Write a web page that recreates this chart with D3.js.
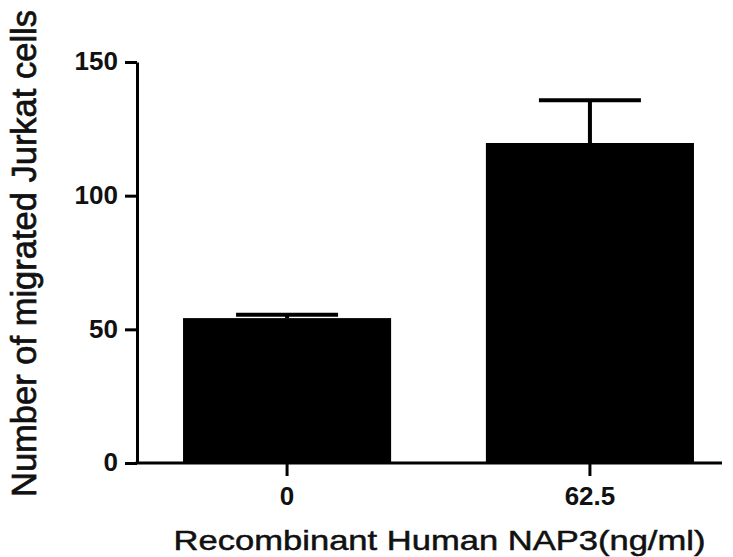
<!DOCTYPE html>
<html>
<head>
<meta charset="utf-8">
<script src="https://cdn.jsdelivr.net/npm/d3@7"></script>
<style>
    body { margin: 0; background: #fff; }
    svg { display: block; }
    .tick-label { font-family: "Liberation Sans", Arial, sans-serif; font-weight: bold; font-size: 26px; fill: #111; }
    .axis-title { font-family: "Liberation Sans", Arial, sans-serif; fill: #111; stroke: #111; }
</style>
</head>
<body>
<svg id="chart"></svg>
<script>
// DATA
var categories = ["0", "62.5"];
var meanValues = [54.2, 119.7];
var errorValues = [1.3, 16.0];
var yTickValues = [0, 50, 100, 150];
var xTitle = "Recombinant Human NAP3(ng/ml)";
var yTitle = "Number of migrated Jurkat cells";

// UI dimensions
var _width = 733;
var _height = 557;
var _axisX = 137;
var _axisY = 463;
var _topY = 62;

var svg = d3.select("#chart")
    .attr("width", _width)
    .attr("height", _height);

var x = d3.scaleBand()
    .domain(categories)
    .range([_axisX, 740])
    .paddingInner(0.313)
    .paddingOuter(0.152);

var y = d3.scaleLinear()
    .domain([0, 150])
    .range([_axisY, _topY]);

var data = categories.map(function(c, i) {
    return { name: c, mean: meanValues[i], err: errorValues[i] };
});

// bars
svg.append("g").selectAll("rect")
    .data(data)
    .enter()
    .append("rect")
        .attr("x", function(d) { return x(d.name); })
        .attr("y", function(d) { return y(d.mean); })
        .attr("width", x.bandwidth())
        .attr("height", function(d) { return y(0) - y(d.mean); })
        .attr("fill", "#000");

// error bars (upper only)
var gErr = svg.append("g")
    .attr("stroke", "#000")
    .attr("stroke-width", 4);

gErr.selectAll(".stem")
    .data(data)
    .enter()
    .append("line")
        .attr("x1", function(d) { return x(d.name) + x.bandwidth() / 2; })
        .attr("x2", function(d) { return x(d.name) + x.bandwidth() / 2; })
        .attr("y1", function(d) { return y(d.mean); })
        .attr("y2", function(d) { return y(d.mean + d.err); });

gErr.selectAll(".cap")
    .data(data)
    .enter()
    .append("line")
        .attr("x1", function(d) { return x(d.name) + x.bandwidth() / 2 - 51; })
        .attr("x2", function(d) { return x(d.name) + x.bandwidth() / 2 + 51; })
        .attr("y1", function(d) { return y(d.mean + d.err); })
        .attr("y2", function(d) { return y(d.mean + d.err); });

// y axis
var yAxis = svg.append("g")
    .attr("transform", "translate(" + _axisX + ",0)")
    .call(d3.axisLeft(y).tickValues(yTickValues).tickSize(12).tickPadding(7).tickSizeOuter(0));

yAxis.select(".domain").attr("stroke-width", 3);
yAxis.selectAll(".tick line").attr("stroke-width", 3);
yAxis.selectAll(".tick text")
    .attr("class", "tick-label")
    .attr("dy", "0.3em");

// x axis
var xAxis = svg.append("g")
    .attr("transform", "translate(0," + _axisY + ")")
    .call(d3.axisBottom(x).tickSize(13).tickPadding(11).tickSizeOuter(0));

xAxis.select(".domain").remove();
xAxis.append("line")
    .attr("x1", _axisX - 1.5)
    .attr("x2", 722)
    .attr("stroke", "#000")
    .attr("stroke-width", 3);
xAxis.selectAll(".tick line").attr("stroke-width", 3);
xAxis.selectAll(".tick text")
    .attr("class", "tick-label");

// axis titles (x title is stretched wide like the source image)
svg.append("text")
    .classed("axis-title", true)
    .attr("transform", "translate(439.5,550) scale(1.234,1)")
    .attr("text-anchor", "middle")
    .attr("font-size", 28)
    .attr("stroke-width", 0.5)
    .text(xTitle);

svg.append("text")
    .classed("axis-title", true)
    .attr("transform", "translate(36,253.5) rotate(-90)")
    .attr("text-anchor", "middle")
    .attr("font-size", 34.5)
    .attr("stroke-width", 0.7)
    .attr("textLength", 487)
    .attr("lengthAdjust", "spacingAndGlyphs")
    .text(yTitle);
</script>
</body>
</html>
